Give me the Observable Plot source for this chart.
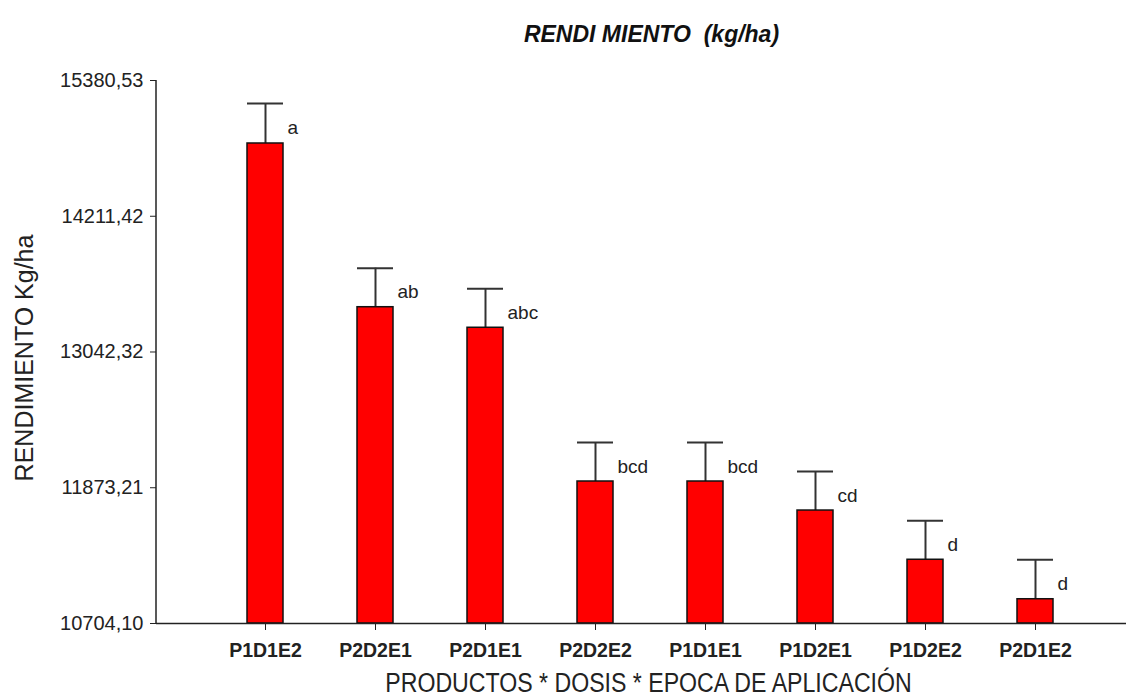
<!DOCTYPE html>
<html>
<head>
<meta charset="utf-8">
<script src="https://cdn.jsdelivr.net/npm/d3@7"></script>
<script src="https://cdn.jsdelivr.net/npm/@observablehq/plot@0.6"></script>
<style>
  html, body { margin: 0; padding: 0; background: #fff; }
</style>
</head>
<body>
<div id="chart"></div>
<script>
const categories = ["P1D1E2", "P2D2E1", "P2D1E1", "P2D2E2", "P1D1E1", "P1D2E1", "P1D2E2", "P2D1E2"];
const means = [14838, 13428, 13251, 11927, 11927, 11677, 11253, 10913];
const upper = [15182, 13764, 13586, 12263, 12263, 12013, 11588, 11253];
const groups = ["a", "ab", "abc", "bcd", "bcd", "cd", "d", "d"];
const yTicks = [10704.10, 11873.21, 13042.32, 14211.42, 15380.53];
const titleText = "RENDI MIENTO  (kg/ha)";
const yLabel = "RENDIMIENTO Kg/ha";
const xLabel = "PRODUCTOS * DOSIS * EPOCA DE APLICACIÓN";

const data = categories.map((c, i) => ({cat: c, mean: means[i], upper: upper[i], group: groups[i]}));
const fmt = d => d.toFixed(2).replace(".", ",");

const chart = Plot.plot({
  width: 1126,
  height: 698,
  marginTop: 80,
  marginBottom: 75,
  marginLeft: 156,
  marginRight: 0,
  style: {fontFamily: "'Liberation Sans', Arial, sans-serif", background: "#fff", color: "#222"},
  x: {domain: categories, paddingInner: 0.673, paddingOuter: 0.3365, insetLeft: 54, insetRight: 36},
  y: {domain: [yTicks[0], yTicks[yTicks.length - 1]]},
  marks: [
    Plot.ruleX(data, {x: "cat", y1: "mean", y2: "upper", stroke: "#333", strokeWidth: 2}),
    Plot.tickY(data, {x: "cat", y: "upper", stroke: "#333", strokeWidth: 2}),
    Plot.barY(data, {x: "cat", y1: yTicks[0], y2: "mean", fill: "#ff0000", stroke: "#111", strokeWidth: 1.5}),
    Plot.text(data, {x: "cat", y: "upper", text: "group", textAnchor: "start", dx: 22, dy: 24, fontSize: 19, fill: "#222"}),
    Plot.ruleY([yTicks[0]], {stroke: "#222", strokeWidth: 1.5}),
    Plot.axisY({ticks: yTicks, tickFormat: fmt, tickSize: 6, tickPadding: 7, fontSize: 20, label: null, stroke: "#222"}),
    Plot.axisX({tickSize: 7, tickPadding: 13, fontSize: 19.5, fontWeight: "bold", label: null, stroke: "#222"}),
    Plot.text([yLabel], {frameAnchor: "left", textAnchor: "middle", rotate: -90, dx: -132, dy: 6, fontSize: 25, fill: "#222"}),
    Plot.text([xLabel], {frameAnchor: "bottom", textAnchor: "middle", dx: 7, dy: 68, fontSize: 27, fill: "#222"}),
    Plot.text([titleText], {frameAnchor: "top", dx: 10, dy: -55, fontSize: 23, fontWeight: "bold", fontStyle: "italic", fill: "#111"})
  ]
});

// left axis line using the plot's own y scale
const ys = chart.scale("y");
d3.select(chart).append("line")
  .attr("x1", 156).attr("x2", 156)
  .attr("y1", ys.apply(yTicks[yTicks.length - 1]))
  .attr("y2", ys.apply(yTicks[0]))
  .attr("stroke", "#222").attr("stroke-width", 1.5);

// narrow the x-axis title horizontally (reference uses a condensed face)
d3.select(chart).selectAll("text").filter(function() { return this.textContent === xLabel; })
  .each(function() {
    const t = this.getAttribute("transform") || "";
    this.setAttribute("transform", t + " scale(0.857,1)");
  });

document.getElementById("chart").appendChild(chart);
</script>
</body>
</html>
